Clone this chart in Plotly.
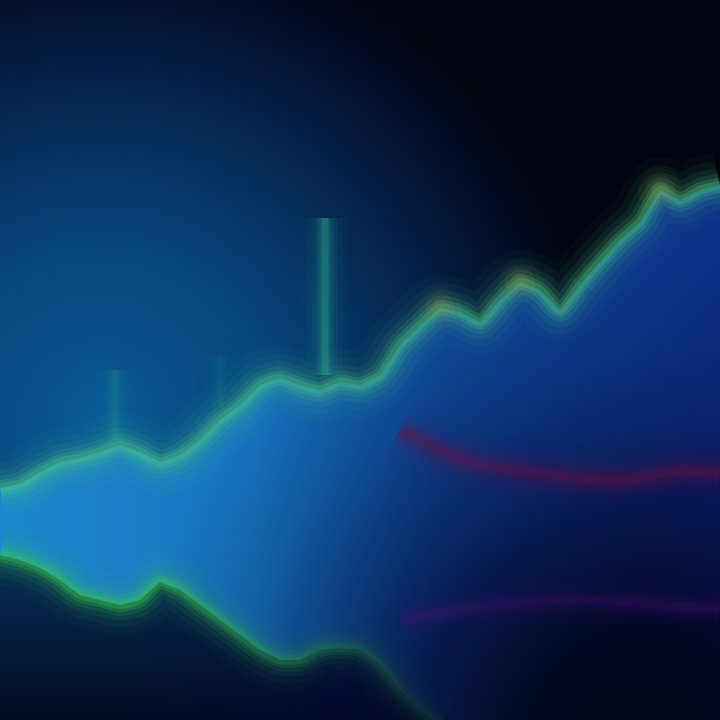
import plotly.graph_objects as go

# ---- data (x index: 0..36 across the chart) ----
upper_x = list(range(37))
upper_vals = [232, 236, 248, 258, 262, 268, 275, 268, 258, 265, 280, 300, 315, 335, 342, 335,
              330, 338, 335, 345, 375, 395, 412, 408, 398, 420, 438, 430, 410, 435, 458, 480,
              498, 530, 520, 530, 535]

lower_x = list(range(23))
lower_vals = [165, 160, 152, 140, 125, 120, 115, 120, 138, 130, 115, 100, 85, 70, 60, 60,
              70, 72, 70, 55, 30, 10, -5]

red_x = list(range(20, 37))
red_vals = [290, 280, 270, 262, 256, 252, 250, 247, 244, 242, 241, 241, 242, 246, 250, 249, 248]

mag_x = list(range(20, 37))
mag_vals = [100, 103, 107, 110, 113, 115, 117, 119, 120, 120, 119, 118, 117, 115, 114, 113, 112]

spike_x = [5.75, 11.0, 16.25]
spike_lo = [280, 315, 345]
spike_hi = [350, 365, 502]
spike_alpha = [0.3, 0.2, 0.7]

peak_idx = [22, 26, 33]

fig = go.Figure()

# background radial glow
fig.add_trace(go.Scatter(
    x=[-20, 30, 30, -20, -20], y=[800, 800, -200, -200, 800], mode="lines",
    line=dict(width=0), fill="toself", hoverinfo="skip",
    fillgradient=dict(type="radial", colorscale=[
        [0, "#0a5a96"], [0.35, "#07457c"], [0.65, "#05254f"], [0.85, "#030f2c"], [1, "#01030f"]])
))

# area under upper line
fig.add_trace(go.Scatter(
    x=upper_x, y=upper_vals, mode="lines", line=dict(width=0), fill="tozeroy",
    hoverinfo="skip",
    fillgradient=dict(type="horizontal", start=0, stop=36, colorscale=[
        [0, "#1b88cc"], [0.35, "#1674bd"], [0.6, "#0f4e9e"], [1, "#0c3088"]])
))

# dark area below lower line
fig.add_trace(go.Scatter(
    x=lower_x + [22, 0], y=lower_vals + [-10, -10], mode="lines", line=dict(width=0),
    fill="toself", hoverinfo="skip",
    fillgradient=dict(type="vertical", start=0, stop=170, colorscale=[
        [0, "#020a22"], [1, "#07305a"]])
))


def glow(x, y, rgb, core=8, alpha=1.0, shape="spline"):
    layers = [(core * 6, 0.04), (core * 4.5, 0.06), (core * 3.2, 0.09), (core * 2.2, 0.14),
              (core * 1.4, 0.22), (core * 0.8, 0.28)]
    for w, a in layers:
        fig.add_trace(go.Scatter(
            x=x, y=y, mode="lines", hoverinfo="skip",
            line=dict(color=f"rgba({rgb[0]},{rgb[1]},{rgb[2]},{a * alpha:.3f})", width=w,
                      shape=shape, smoothing=0.6)
        ))


# lower green line (drawn before the dark overlay so its right end fades)
glow(lower_x, lower_vals, (60, 200, 80), core=10)

# dark radial overlay bottom-right (navy, smooth)
fig.add_trace(go.Scatter(
    x=[6, 58, 58, 6, 6], y=[480, 480, -560, -560, 480], mode="lines",
    line=dict(width=0), fill="toself", hoverinfo="skip",
    fillgradient=dict(type="radial", colorscale=[
        [0, "rgba(1,2,16,0.97)"], [0.25, "rgba(1,3,24,0.9)"], [0.45, "rgba(2,6,45,0.72)"],
        [0.62, "rgba(2,8,55,0.45)"], [0.8, "rgba(3,10,60,0.18)"], [1, "rgba(3,10,60,0)"]])
))

# faint lines
glow(mag_x, mag_vals, (80, 20, 120), core=10, alpha=0.5)
glow(red_x, red_vals, (120, 15, 60), core=11, alpha=0.7)

# spikes
for sx, lo, hi, a in zip(spike_x, spike_lo, spike_hi, spike_alpha):
    glow([sx, sx], [lo, hi], (50, 190, 150), core=8, alpha=a, shape="linear")

# upper line
glow(upper_x, upper_vals, (75, 200, 135), core=11)

# warm glow at right-hand peaks (subtle)
px = [upper_x[i] for i in peak_idx]
py = [upper_vals[i] for i in peak_idx]
for s, a in [(44, 0.04), (30, 0.07), (18, 0.1)]:
    fig.add_trace(go.Scatter(
        x=px, y=py, mode="markers", hoverinfo="skip",
        marker=dict(size=s, color=f"rgba(205,160,60,{a})", line=dict(width=0))))

fig.update_layout(
    width=720, height=720, margin=dict(l=0, r=0, t=0, b=0),
    paper_bgcolor="#01030f", plot_bgcolor="rgba(0,0,0,0)", showlegend=False,
    xaxis=dict(range=[0, 36], visible=False, fixedrange=True),
    yaxis=dict(range=[0, 720], visible=False, fixedrange=True),
)

fig.write_html("out.html", config={"displayModeBar": False},
               post_script="document.body.style.margin='0';"
                           "document.body.style.background='#01030f';")
